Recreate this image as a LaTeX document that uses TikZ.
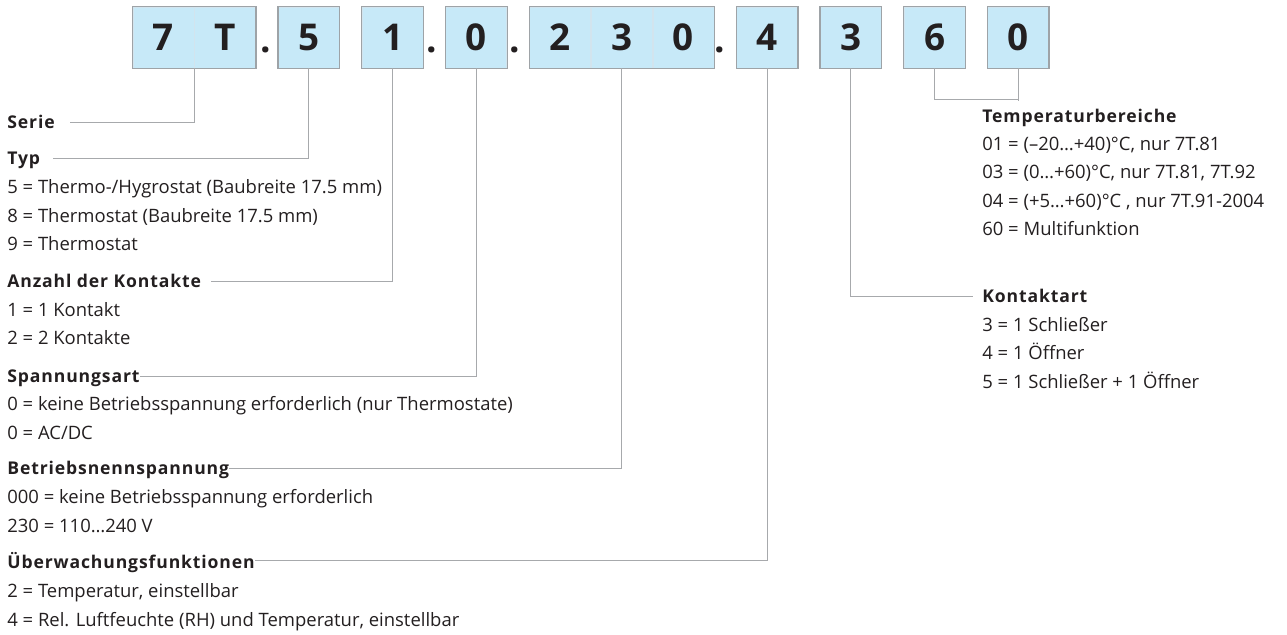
\documentclass[tikz,border=0pt]{standalone}
\usepackage{fontspec}
\setmainfont{Open Sans}
\usetikzlibrary{positioning}
\definecolor{cellblue}{RGB}{199,233,248}
\definecolor{cellframe}{RGB}{158,163,167}
\definecolor{celldiv}{RGB}{210,228,238}
\definecolor{linkgray}{RGB}{167,169,172}
\definecolor{inkblack}{RGB}{35,31,32}
\tikzset{%
  cell/.style={
    fill=cellblue,
    draw=celldiv,
    minimum size=12.2mm,
    inner sep=0pt,
    font=\fontsize{21}{21}\selectfont\bfseries
  },
  sep/.style={
    anchor=base,
    inner sep=0pt,
    font=\fontsize{21}{21}\selectfont\bfseries
  },
  head/.style={
    anchor=base west,
    inner sep=0pt,
    text depth=0pt,
    font=\bfseries\addfontfeature{LetterSpace=5}
  },
  items/.style={
    anchor=base west,
    inner sep=0pt,
    align=left
  },
}

\begin{document}
\begin{tikzpicture}[x=0.2mm,y=-0.2mm,node distance=4.4mm,text=inkblack,font=\fontsize{10.5}{16.3}\selectfont]
        \tikzstyle{link}=[draw=linkgray,line width=0.6pt]
        \tikzstyle{frame}=[draw=cellframe,line width=0.7pt]
        \useasboundingbox (0,0) rectangle (1287,635);

        % code digits
        \node[cell] (d1) at (163.5,37.5) {7};
        \node[cell,right=0mm of d1] (d2) {T};
        \node[cell,right=of d2] (d3) {5};
        \node[cell,right=of d3] (d4) {1};
        \node[cell,right=of d4] (d5) {0};
        \node[cell,right=of d5] (d6) {2};
        \node[cell,right=0mm of d6] (d7) {3};
        \node[cell,right=0mm of d7] (d8) {0};
        \node[cell,right=of d8] (d9) {4};
        \node[cell,right=of d9] (d10) {3};
        \node[cell,right=of d10] (d11) {6};
        \node[cell,right=of d11] (d12) {0};
        \foreach \a/\b in {d1/d2,d3/d3,d4/d4,d5/d5,d6/d8,d9/d9,d10/d10,d11/d11,d12/d12}
          \draw[frame] (\a.north west) rectangle (\b.south east);

        \node[sep] (p1) at (266,53) {.};
        \node[sep] (p2) at (432,53) {.};
        \node[sep] (p3) at (515,53) {.};
        \node[sep] (p4) at (720,53) {.};

        % left column (items sit on the baseline of their last line)
        \node[head] (hSerie) at (7,129) {Serie};
        \node[head] (hTyp) at (7,165) {Typ};
        \node[items] (iTyp) at (7,251) {5 = Thermo-/Hygrostat (Baubreite 17.5 mm)\\8 = Thermostat (Baubreite 17.5 mm)\\9 = Thermostat};
        \node[head] (hKont) at (7,288) {Anzahl der Kontakte};
        \node[items] (iKont) at (7,345) {1 = 1 Kontakt\\2 = 2 Kontakte};
        \node[head] (hSpann) at (7,383) {Spannungsart};
        \node[items] (iSpann) at (7,439.5) {0 = keine Betriebsspannung erforderlich (nur Thermostate)\\0 = AC/DC};
        \node[head] (hVolt) at (7,475) {Betriebsnennspannung};
        \node[items] (iVolt) at (7,532.5) {000 = keine Betriebsspannung erforderlich\\230 = 110…240 V};
        \node[head] (hFunc) at (7,569) {Überwachungsfunktionen};
        \node[items] (iFunc) at (7,626.5) {2 = Temperatur, einstellbar\\4 = Rel. Luftfeuchte (RH) und Temperatur, einstellbar};

        % right column
        \node[head] (hTemp) at (982,123) {Temperaturbereiche};
        \node[items] (iTemp) at (982,236) {01 = (–20…+40)°C, nur 7T.81\\03 = (0…+60)°C, nur 7T.81, 7T.92\\04 = (+5…+60)°C , nur 7T.91-2004\\60 = Multifunktion};
        \node[head] (hArt) at (982,303) {Kontaktart};
        \node[items] (iArt) at (982,388.5) {3 = 1 Schließer\\4 = 1 Öffner\\5 = 1 Schließer + 1 Öffner};

        % connectors
        \draw[link,shorten >=3mm] (d1.south east) |- (hSerie.east);
        \draw[link,shorten >=2.6mm] (d3.south) |- (hTyp.east);
        \draw[link,shorten >=2mm] (d4.south) |- (hKont.east);
        \draw[link] (d5.south) |- (hSpann.east);
        \draw[link] (d7.south) |- (hVolt.east);
        \draw[link] (d9.south) |- (hFunc.east);
        \draw[link,shorten >=1.8mm] (d10.south) |- (hArt.west);
        \draw[link] (d11.south) -- ++(0,31) -| (d12.south);
        \draw[link,shorten >=1.6mm] (d12.south) -- (d12.south |- hTemp.north);
    \end{tikzpicture}
\end{document}
